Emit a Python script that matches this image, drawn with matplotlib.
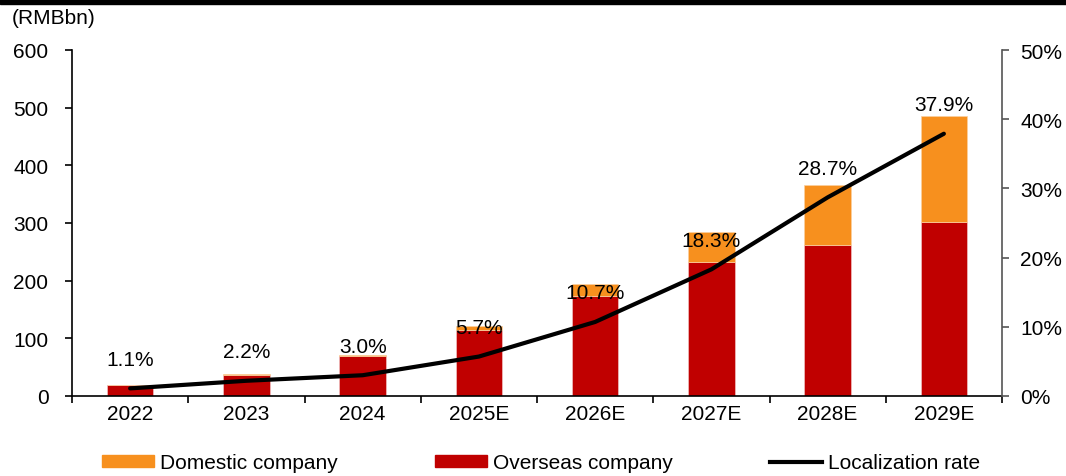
import numpy as np
import matplotlib
matplotlib.use("Agg")
import matplotlib.pyplot as plt
from matplotlib.lines import Line2D
from matplotlib.patches import Rectangle

plt.rcParams["font.family"] = ["Liberation Sans", "DejaVu Sans"]
plt.rcParams["font.size"] = 15

# data
years = ["2022", "2023", "2024", "2025E", "2026E", "2027E", "2028E", "2029E"]
overseas = [18.8, 37.2, 68.9, 114.1, 173.2, 232.0, 261.0, 301.0]
domestic = [0.2, 0.8, 2.1, 6.9, 20.8, 52.0, 105.0, 184.0]
local_rate = [1.1, 2.2, 3.0, 5.7, 10.7, 18.3, 28.7, 37.9]

ORANGE = "#F7901E"
RED = "#C00000"

fig = plt.figure(figsize=(10.66, 4.77), dpi=100)
ax = fig.add_axes([72 / 1066, 1 - 397 / 477, 930 / 1066, 346 / 477])
x = np.arange(len(years))

ax.bar(x, overseas, width=0.4, color=RED, edgecolor="#f0c0c0", linewidth=0.5, zorder=2)
ax.bar(x, domestic, width=0.4, bottom=overseas, color=ORANGE, edgecolor="#fbd0a0",
       linewidth=0.5, zorder=2)

ax.set_xlim(-0.5, len(years) - 0.5)
ax.set_ylim(0, 600)
ax.set_yticks(range(0, 601, 100))
ax.set_xticks(x)
ax.set_xticklabels(years)
ax.set_xticks(np.arange(-0.5, len(years), 1), minor=True)
ax.tick_params(axis="x", which="major", length=0, pad=6)
ax.tick_params(axis="x", which="minor", length=5, width=1.2, direction="out")
ax.tick_params(axis="y", length=5, width=1.2, direction="out", pad=12)
for s in ["top", "right"]:
    ax.spines[s].set_visible(False)
ax.spines["left"].set_linewidth(1.2)
ax.spines["bottom"].set_linewidth(1.2)

ax2 = ax.twinx()
ax2.plot(x, local_rate, color="black", lw=3, zorder=3, solid_capstyle="round")
ax2.set_ylim(0, 50)
ax2.set_yticks(range(0, 51, 10))
ax2.set_yticklabels([f"{v}%" for v in range(0, 51, 10)])
ax2.tick_params(axis="y", length=5, width=1.2, direction="out", pad=8, color="#555555")
for s in ["top", "left", "bottom"]:
    ax2.spines[s].set_visible(False)
ax2.spines["right"].set_color("#555555")
ax2.spines["right"].set_linewidth(1.2)

for xi, r in zip(x, local_rate):
    ax2.annotate(f"{r:.1f}%", (xi, r), xytext=(0, 21), textcoords="offset points",
                 ha="center", va="center", fontsize=15, zorder=4)

fig.text(12 / 1066, 1 - 19 / 477, "(RMBbn)", ha="left", va="center", fontsize=15)
fig.patches.append(Rectangle((0, 1 - 5 / 477), 1, 5 / 477, transform=fig.transFigure,
                             color="black", zorder=5))

handles = [Rectangle((0, 0), 1, 1, color=ORANGE),
           Rectangle((0, 0), 1, 1, color=RED),
           Line2D([0], [0], color="black", lw=3)]
labels = ["Domestic company", "Overseas company", "Localization rate"]
fig.legend(handles, labels, loc="center", bbox_to_anchor=(541 / 1066, 1 - 464 / 477), ncol=3,
           frameon=False, fontsize=15, handlelength=2.5, handleheight=0.5,
           handletextpad=0.25, columnspacing=4.7)

fig.savefig("out.png", dpi=100)
